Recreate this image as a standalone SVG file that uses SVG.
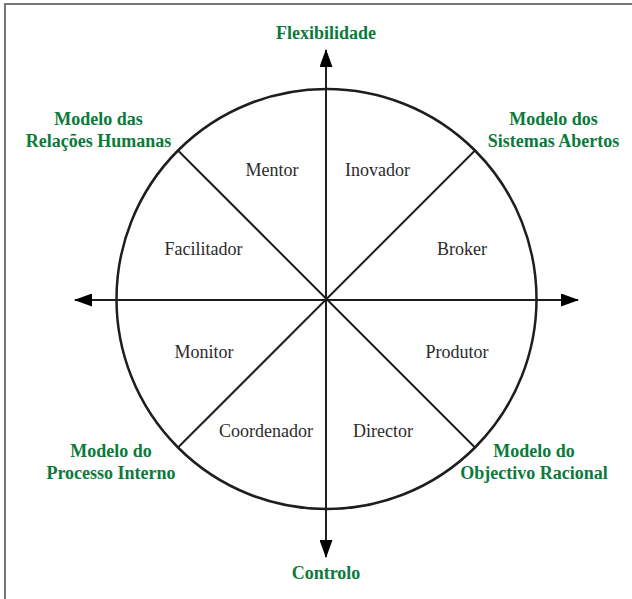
<svg xmlns="http://www.w3.org/2000/svg" width="632" height="599" viewBox="0 0 632 599">
<style>
.lbl{font-family:"Liberation Serif","Times New Roman",serif;font-size:18px;fill:#2b2b2b;text-anchor:middle}
.mdl{font-family:"Liberation Serif","Times New Roman",serif;font-size:18px;font-weight:bold;fill:#0b7a3b;text-anchor:middle}
.ln{stroke:#1e1e1e;stroke-width:2;fill:none}
</style>
<defs>
<marker id="ah" markerWidth="18" markerHeight="13" refX="17" refY="6.5" orient="auto" markerUnits="userSpaceOnUse">
<path d="M0,0 L18,6.5 L0,13 Z" fill="#000"/>
</marker>
</defs>
<rect x="0" y="0" width="632" height="599" fill="#fff"/>
<rect x="5" y="4" width="640" height="610" fill="none" stroke="#777" stroke-width="2"/>
<g id="circle">
<circle cx="326.5" cy="299" r="210" fill="none" stroke="#1e1e1e" stroke-width="2.5"/>
</g>
<g id="connectors">
<line class="ln" x1="326" y1="299" x2="326" y2="50" marker-end="url(#ah)"/>
<line class="ln" x1="326" y1="299" x2="326" y2="557" marker-end="url(#ah)"/>
<line class="ln" x1="326" y1="300" x2="75" y2="300" marker-end="url(#ah)"/>
<line class="ln" x1="326" y1="300" x2="578" y2="300" marker-end="url(#ah)"/>
<line class="ln" x1="178" y1="150.5" x2="475" y2="447.5"/>
<line class="ln" x1="475" y1="150.5" x2="178" y2="447.5"/>
</g>
<g id="flexibilidade"><text class="mdl" x="326" y="39">Flexibilidade</text></g>
<g id="controlo"><text class="mdl" x="326" y="579">Controlo</text></g>
<g id="relacoes-humanas"><text class="mdl" x="98.5" y="125">Modelo das</text><text class="mdl" x="98.5" y="146.5">Relações Humanas</text></g>
<g id="sistemas-abertos"><text class="mdl" x="553.5" y="125">Modelo dos</text><text class="mdl" x="553.5" y="146.5">Sistemas Abertos</text></g>
<g id="processo-interno"><text class="mdl" x="111" y="457">Modelo do</text><text class="mdl" x="111" y="478.5">Processo Interno</text></g>
<g id="objectivo-racional"><text class="mdl" x="534" y="457">Modelo do</text><text class="mdl" x="534" y="478.5">Objectivo Racional</text></g>
<g id="mentor"><text class="lbl" x="272" y="176">Mentor</text></g>
<g id="inovador"><text class="lbl" x="377.5" y="176">Inovador</text></g>
<g id="facilitador"><text class="lbl" x="203.5" y="255">Facilitador</text></g>
<g id="broker"><text class="lbl" x="462" y="255">Broker</text></g>
<g id="monitor"><text class="lbl" x="204" y="358">Monitor</text></g>
<g id="produtor"><text class="lbl" x="457" y="358">Produtor</text></g>
<g id="coordenador"><text class="lbl" x="266" y="437">Coordenador</text></g>
<g id="director"><text class="lbl" x="383" y="437">Director</text></g>
</svg>
